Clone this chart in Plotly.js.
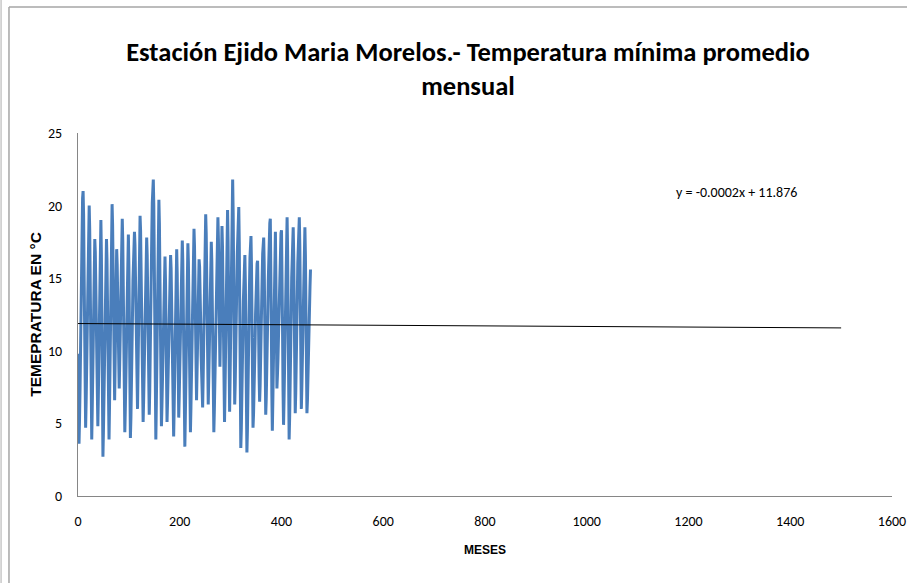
<!DOCTYPE html>
<html>
<head>
<meta charset="utf-8">
<script src="https://cdn.plot.ly/plotly-3.0.1.min.js"></script>
<style>
html,body{margin:0;padding:0;background:#fff;}
#chart{width:907px;height:583px;}
</style>
</head>
<body>
<div id="chart"></div>
<script>
// Monthly mean minimum temperature (°C), month index 1..N
const tempMin = [
  9.8,
  3.6, 5.3, 7.4, 10.2, 13.7, 16.8, 19.3, 20.5, 21.0,
  19.4, 15.3, 10.4, 6.3, 4.7,
  6.5, 9.0, 12.0, 15.4, 18.0, 19.4, 20.0,
  18.4, 14.4, 9.5, 5.5, 3.9,
  6.0, 8.7, 12.2, 15.2, 17.0, 17.7,
  16.8, 14.5, 11.0, 7.6, 5.6, 4.8,
  6.9, 9.8, 13.3, 16.4, 18.3, 19.0,
  16.6, 10.9, 5.6, 2.7,
  4.5, 6.9, 9.9, 13.2, 15.8, 17.1, 17.7,
  16.3, 12.9, 8.7, 5.3, 3.9,
  6.3, 9.6, 13.6, 17.2, 19.3, 20.1,
  18.7, 15.4, 11.3, 8.0, 6.6,
  9.2, 12.8, 15.8, 17.0,
  16.0, 13.2, 10.8, 8.4, 7.4,
  9.2, 11.5, 14.4, 17.0, 18.5, 19.1,
  17.6, 14.2, 9.5, 5.9, 4.4,
  6.0, 8.2, 10.9, 13.9, 16.2, 17.5, 18.0,
  15.9, 11.0, 6.5, 4.0,
  5.4, 7.1, 9.4, 12.2, 14.8, 16.8, 17.8, 18.2,
  17.3, 15.2, 11.9, 8.7, 6.7, 6.0,
  8.7, 12.0, 15.6, 18.2, 19.3,
  18.3, 15.8, 11.9, 8.2, 6.0, 5.1,
  6.6, 8.7, 11.2, 14.0, 16.1, 17.3, 17.8,
  16.6, 13.5, 9.9, 6.8, 5.6,
  7.2, 9.2, 11.8, 15.0, 17.9, 20.2, 21.3, 21.8,
  20.0, 15.4, 10.2, 5.7, 3.9,
  6.4, 9.7, 13.8, 17.4, 19.6, 20.4,
  18.8, 15.0, 10.3, 6.4, 4.8,
  6.2, 8.1, 10.4, 13.0, 15.0, 16.0, 16.5,
  14.8, 10.8, 7.2, 5.1,
  6.5, 8.3, 10.6, 13.2, 15.1, 16.1, 16.6,
  15.7, 13.5, 10.1, 6.9, 4.9, 4.1,
  6.0, 8.6, 11.8, 14.7, 16.4, 17.0,
  15.3, 11.2, 7.5, 5.4,
  6.9, 8.8, 11.3, 13.9, 16.0, 17.1, 17.6,
  16.2, 12.8, 8.4, 4.8, 3.4,
  5.5, 8.3, 11.8, 14.9, 16.7, 17.4,
  16.1, 12.9, 9.0, 5.7, 4.4,
  6.1, 8.3, 11.1, 14.2, 16.6, 17.8, 18.4,
  17.2, 14.3, 10.7, 7.8, 6.6,
  8.5, 11.0, 13.6, 15.5, 16.3,
  15.8, 14.5, 12.2, 9.7, 7.6, 6.5, 6.1,
  8.1, 10.8, 14.1, 17.0, 18.7, 19.4,
  18.1, 14.9, 10.9, 7.6, 6.3,
  8.0, 10.2, 13.0, 15.5, 16.9, 17.5,
  16.2, 12.9, 9.0, 5.7, 4.4,
  5.9, 7.7, 10.0, 13.0, 15.6, 17.7, 18.8, 19.2,
  17.7, 14.1, 10.8, 8.9,
  11.3, 14.7, 17.4, 18.6,
  17.2, 13.9, 9.8, 6.5, 5.1,
  7.3, 10.2, 13.9, 17.1, 18.9, 19.7,
  17.6, 12.8, 8.3, 5.8,
  8.2, 11.4, 15.4, 18.9, 21.0, 21.8,
  19.5, 14.1, 9.1, 6.3,
  7.7, 9.3, 11.5, 14.2, 16.6, 18.5, 19.5, 19.9,
  17.4, 11.6, 6.3, 3.3,
  4.6, 6.2, 8.4, 11.0, 13.4, 15.3, 16.2, 16.6,
  14.6, 9.8, 5.4, 3.0,
  4.5, 6.3, 8.7, 11.6, 14.3, 16.4, 17.5, 17.9,
  15.9, 11.3, 7.1, 4.7,
  5.6, 6.8, 8.4, 10.5, 12.5, 14.2, 15.4, 16.0, 16.2,
  14.7, 11.4, 8.2, 6.5,
  7.6, 9.0, 10.8, 13.1, 15.1, 16.7, 17.5, 17.8,
  16.0, 11.7, 7.8, 5.6,
  6.7, 8.0, 9.9, 12.4, 14.8, 16.8, 18.2, 18.8, 19.1,
  16.9, 11.8, 7.1, 4.5,
  6.6, 9.3, 12.7, 15.7, 17.5, 18.2,
  14.9, 10.6, 7.4,
  8.3, 9.4, 10.9, 12.9, 14.8, 16.4, 17.5, 18.1, 18.3,
  16.3, 11.6, 7.3, 4.9,
  6.6, 8.9, 11.8, 14.9, 17.3, 18.6, 19.2,
  16.9, 11.6, 6.7, 3.9,
  5.4, 7.1, 9.4, 12.4, 15.0, 17.0, 18.1, 18.5,
  16.6, 12.1, 8.0, 5.7,
  7.1, 8.7, 10.8, 13.5, 16.0, 17.9, 18.8, 19.2,
  17.2, 12.6, 8.4, 6.0,
  7.5, 9.5, 12.0, 14.8, 16.9, 18.0, 18.5,
  16.6, 12.1, 8.0, 5.7,
  6.6, 7.8, 9.3, 11.0, 12.8, 14.4, 15.6
];
const months = tempMin.map((v, i) => i + 1);

// Linear trend shown on the chart: y = -0.0002x + 11.876
const trendSlope = -0.0002;
const trendIntercept = 11.876;
const trendX = [0, 1500];
const trendY = trendX.map(x => trendSlope * x + trendIntercept);
const trendLabel = "y = -0.0002x + 11.876";

const xTicks = [0, 200, 400, 600, 800, 1000, 1200, 1400, 1600];
const yTicks = [0, 5, 10, 15, 20, 25];

const titleText = "Estación Ejido Maria Morelos.- Temperatura mínima promedio<br>mensual";
const xTitle = "MESES";
const yTitle = "TEMEPRATURA EN °C";

const calibri = "Carlito, Calibri, 'Liberation Sans Narrow', 'DejaVu Sans Condensed', sans-serif";
const arial = "'Liberation Sans', Arial, sans-serif";

const traces = [
  {
    x: months, y: tempMin, type: 'scatter', mode: 'lines',
    line: {color: '#4A7EBB', width: 3}, hoverinfo: 'skip', showlegend: false
  },
  {
    x: trendX, y: trendY, type: 'scatter', mode: 'lines',
    line: {color: '#000000', width: 1}, hoverinfo: 'skip', showlegend: false
  }
];

const layout = {
  width: 907, height: 583,
  margin: {l: 78, r: 15, t: 133, b: 87, pad: 0},
  paper_bgcolor: '#ffffff', plot_bgcolor: '#ffffff',
  showlegend: false,
  title: {
    text: titleText,
    font: {family: calibri, size: 26.5, color: '#000000', weight: 'bold'},
    x: 0.516, xanchor: 'center', y: 0.896, yanchor: 'middle'
  },
  xaxis: {
    range: [0, 1600], tickvals: xTicks, ticktext: xTicks.map(String),
    showgrid: false, zeroline: false, showline: true, linecolor: '#868686', linewidth: 1,
    ticks: '', ticklabelstandoff: 12,
    tickfont: {family: calibri, size: 14, color: '#000000'},
    title: {text: xTitle, font: {family: arial, size: 12, color: '#000000', weight: 'bold'}, standoff: 16}
  },
  yaxis: {
    range: [0, 25], tickvals: yTicks, ticktext: yTicks.map(String),
    showgrid: false, zeroline: false, showline: true, linecolor: '#868686', linewidth: 1,
    ticks: '', ticklabelstandoff: 12,
    tickfont: {family: calibri, size: 14, color: '#000000'},
    title: {text: yTitle, font: {family: arial, size: 15.5, color: '#000000', weight: 'bold'}, standoff: 2}
  },
  annotations: [
    {
      x: 1295, y: 20.9, xref: 'x', yref: 'y', text: trendLabel, showarrow: false,
      font: {family: calibri, size: 14, color: '#000000'}, xanchor: 'center', yanchor: 'middle'
    }
  ],
  shapes: [
    {type: 'line', xref: 'paper', yref: 'paper', x0: -0.0848, x1: -0.0848, y0: 1.347, y1: -0.35,
     line: {color: '#A6A6A6', width: 1.5}},
    {type: 'line', xref: 'paper', yref: 'paper', x0: -0.0848, x1: 1.05, y0: 1.347, y1: 1.347,
     line: {color: '#A6A6A6', width: 1.5}},
    {type: 'line', xref: 'paper', yref: 'paper', x0: -0.0945, x1: -0.0945, y0: 1.4, y1: -0.35,
     line: {color: '#C8C8C8', width: 1.5}}
  ]
};

Plotly.newPlot('chart', traces, layout, {displayModeBar: false, staticPlot: true});
</script>
</body>
</html>
